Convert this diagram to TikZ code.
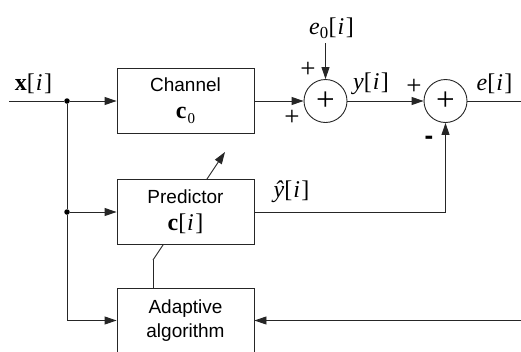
\documentclass[tikz,border=0pt]{standalone}
\usepackage{fontspec}
\setmainfont{Liberation Serif}
\setsansfont{Liberation Sans}
\usetikzlibrary{arrows.meta}
\newcommand\ki{\kern1pt\textit{i}\kern1.5pt}
\begin{document}
\begin{tikzpicture}[x=1pt,y=-1pt,
  line width=0.9pt,
  ln/.style={draw=black!85},
  arr/.style={draw=black!85,-{Triangle[length=12pt,width=8pt]}},
  blk/.style={draw=black!85,fill=white,minimum width=137pt,minimum height=65pt,inner sep=0pt,align=center,font=\sffamily\fontsize{19}{28}\selectfont},
  sumnode/.style={draw=black!85,circle,minimum size=43pt,inner sep=0pt,font=\rmfamily\fontsize{33}{33}\selectfont},
  lab/.style={inner sep=0pt,font=\rmfamily\fontsize{24}{28}\selectfont},
  pl/.style={inner sep=0pt,font=\rmfamily\fontsize{27}{27}\selectfont},
  dot/.style={circle,fill=black,inner sep=0pt,minimum size=5.5pt}]
\clip (0,0) rectangle (521,351);
\fill[white] (0,0) rectangle (521,351);
% nodes
\node[blk] (ch) at (185.5,101) {Channel\\[-1pt]{\rmfamily\fontsize{24}{28}\selectfont\bfseries c}{\rmfamily\fontsize{15}{15}\selectfont\raisebox{-5pt}{\kern1pt 0}}};
\node[blk] (ad) at (185.5,320.5) {Adaptive\\[-4pt]algorithm};
\coordinate (a0) at (153,288);
\coordinate (a1) at (153,260);
\coordinate (a2) at (225,152);
\draw[ln] (a0) -- (a1);
\draw[arr] (a1) -- (a2);
\node[blk] (pr) at (185.5,211.5) {Predictor\\[-1pt]{\rmfamily\fontsize{24}{28}\selectfont\textbf{c}[\ki]}};
\node[sumnode] (s1) at (325.5,101) {+};
\node[sumnode] (s2) at (445.5,101) {+};
\node[dot] (d1) at (67,101) {};
\node[dot] (d2) at (67,212) {};
\coordinate (in) at (9,101);
\coordinate (out) at (521,101);
\coordinate (e0) at (325.5,43);
\coordinate (fb) at (521,320.5);
\coordinate (c1) at (445.5,212);
% connectors
\draw[ln] (in) -- (d1);
\draw[arr] (d1) -- (ch.west);
\draw[ln] (d1) -- (d2);
\draw[arr] (d2) -- (d2 -| pr.west);
\draw[arr] (d2) |- (ad.west);
\draw[arr] (ch.east) -- (s1.west);
\draw[arr] (e0) -- (s1.north);
\draw[arr] (s1.east) -- (s2.west);
\draw[ln] (s2.east) -- (out);
\draw[ln] (pr.east |- c1) -- (c1);
\draw[arr] (c1) -- (s2.south);
\draw[arr] (fb) -- (ad.east);
% labels
\node[lab] (lx) at (33.5,84) {\textbf{x}[\ki]};
\node[lab] (le0) at (331.5,28) {\textit{e}\textsubscript{0}[\ki]};
\node[lab] (ly) at (371,84) {\textit{y}[\ki]};
\node[lab] (le) at (494.5,84) {\textit{e}[\ki]};
\node[lab] (lyh) at (291.5,192) {\textit{ŷ}[\ki]};
\node[pl] (p1) at (308,70) {+};
\node[pl] (p2) at (292,118) {+};
\node[pl] (p3) at (414,87) {+};
\node[inner sep=0pt,font=\sffamily\bfseries\fontsize{26}{26}\selectfont] (m1) at (429,140) {-};
\end{tikzpicture}
\end{document}
